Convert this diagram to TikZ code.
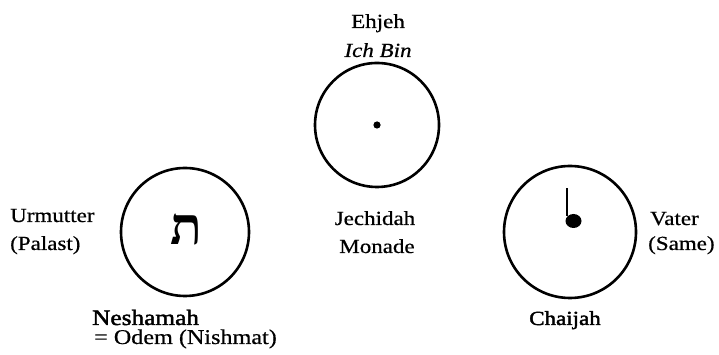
\documentclass[tikz,border=0pt]{standalone}
\usepackage{fontspec}
\usetikzlibrary{positioning,calc}
\setmainfont[FakeStretch=1.15,FakeBold=0.6]{Liberation Serif}
\newfontfamily\heavyfont[FakeStretch=1.15,FakeBold=2]{Liberation Serif}
\newfontfamily\hebfont[Script=Hebrew]{Liberation Serif}

\begin{document}
\begin{tikzpicture}[x=1pt, y=1pt,
      ring/.style={draw, circle, line width=2.6pt, inner sep=0pt},
      lbl/.style={font=\fontsize{20}{24}\selectfont, inner sep=0pt},
      soullbl/.style={font=\heavyfont\fontsize{20}{24}\selectfont, inner sep=0pt},
      sign/.style={fill=black, draw=none}]
    \useasboundingbox (0,0) rectangle (719,355);
    % the three circles
    \node[ring, minimum size=124pt] (jech) at (377,230) {};
    \node[ring, minimum size=128pt] (nesh) at (185,123) {};
    \node[ring, minimum size=132pt] (chai) at (570,123) {};
    % signs inside
    \fill[sign] (jech.center) circle (3.6pt);
    \node[font=\hebfont\bfseries\fontsize{52}{52}\selectfont, inner sep=0pt] (tav) at (186,126) {ת};
    \coordinate (hand) at (chai.center);
    \fill[sign] ($(hand)+(-4.5,44)$) rectangle ($(hand)+(-2.5,16)$);
    \fill[sign] ($(hand)+(3.5,11)$) ellipse (8pt and 7pt);
    % labels of the top circle
    \node[lbl, anchor=base] (ehjeh) at (378,327) {Ehjeh};
    \node[lbl, anchor=base, font=\fontsize{20}{24}\selectfont\itshape] (ichbin) at (378,298) {Ich Bin};
    \node[lbl, anchor=base] (jechlbl) at (375,130) {Jechidah};
    \node[lbl, anchor=base] (monade) at (377,102) {Monade};
    % left
    \node[lbl, anchor=base west] (urmutter) at (10,133) {Urmutter};
    \node[lbl, anchor=base west] (palast) at (10,105) {(Palast)};
    \node[soullbl, anchor=base west, font=\heavyfont\fontsize{22}{24}\selectfont] (neshlbl) at (92,30) {Neshamah};
    \node[lbl, anchor=base west, font=\fontsize{21}{24}\selectfont] (odem) at (94,11) {= Odem (Nishmat)};
    % right
    \node[lbl, anchor=base west] (vater) at (650,130) {Vater};
    \node[lbl, anchor=base west] (same) at (648,105) {(Same)};
    \node[soullbl, anchor=base] (chailbl) at (565,30) {Chaijah};
\end{tikzpicture}
\end{document}
